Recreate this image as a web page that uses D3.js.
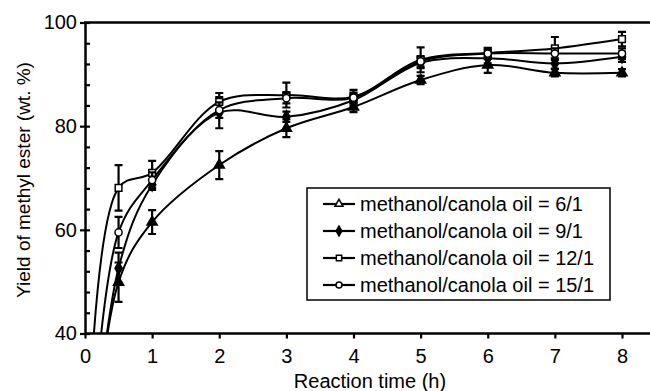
<!DOCTYPE html>
<html>
<head>
<meta charset="utf-8">
<script src="https://cdn.jsdelivr.net/npm/d3@7"></script>
<style>
  html, body { margin: 0; padding: 0; background: #fff; }
  svg { display: block; }
  text { font-family: "Liberation Sans", Arial, sans-serif; fill: #000; }
</style>
</head>
<body>
<svg id="chart" width="650" height="391"></svg>
<script>
// ---- data ----
const times = [0, 0.5, 1, 2, 3, 4, 5, 6, 7, 8];
const yield6 = [0, 49.9, 61.5, 72.5, 79.6, 83.7, 88.9, 91.8, 90.3, 90.3];
const err6   = [0, 3.8, 2.3, 2.7, 1.7, 1.0, 0.8, 1.5, 0.7, 0.7];
const yield9 = [0, 52.6, 68.7, 82.6, 81.8, 85.0, 92.2, 93.1, 92.1, 93.4];
const err9   = [0, 3.0, 1.0, 3.0, 1.0, 1.0, 1.0, 1.0, 1.0, 1.0];
const yield12 = [0, 68.1, 71.0, 84.7, 86.0, 85.7, 92.8, 94.1, 95.0, 96.8];
const err12   = [0, 4.4, 2.3, 1.7, 2.4, 1.3, 2.4, 1.0, 2.2, 1.4];
const yield15 = [0, 59.5, 69.6, 83.1, 85.4, 85.5, 92.5, 94.0, 94.0, 94.0];
const err15   = [0, 3.0, 1.5, 1.5, 1.0, 1.0, 1.0, 1.0, 1.0, 1.0];
const seriesNames = ["methanol/canola oil = 6/1", "methanol/canola oil = 9/1",
                     "methanol/canola oil = 12/1", "methanol/canola oil = 15/1"];
const markerTypes = ["triangle", "diamond", "square", "circle"];
const xTicks = [0, 1, 2, 3, 4, 5, 6, 7, 8];
const yMajor = [40, 60, 80, 100];
const yMinor = [44, 48, 52, 56, 64, 68, 72, 76, 84, 88, 92, 96];
const xTitle = "Reaction time (h)";
const yTitle = "Yield of methyl ester (wt. %)";

const seriesVals = [yield6, yield9, yield12, yield15];
const seriesErr = [err6, err9, err12, err15];

// ---- layout ----
const svg = d3.select("#chart");
const L = 85, R = 650, T = 22.5, B = 333.5;
const x = d3.scaleLinear().domain([0, 8]).range([L, 622]);
const y = d3.scaleLinear().domain([40, 100]).range([B, T]);

const defs = svg.append("defs");
defs.append("clipPath").attr("id", "plotclip")
  .append("rect").attr("x", L).attr("y", T - 2).attr("width", R - L).attr("height", B - T + 2);

const plot = svg.append("g").attr("clip-path", "url(#plotclip)");

const line = d3.line().curve(d3.curveCatmullRom.alpha(0.5))
  .x(d => x(d.t)).y(d => y(d.v));

function markerPath(type, s) {
  const sym = {triangle: d3.symbolTriangle, diamond: d3.symbolDiamond,
               square: d3.symbolSquare, circle: d3.symbolCircle}[type];
  return d3.symbol().type(sym).size(s)();
}
function markerFill(type) { return (type === "square" || type === "circle") ? "#fff" : "#000"; }

seriesVals.forEach((vals, si) => {
  const pts = times.map((t, i) => ({t, v: vals[i], e: seriesErr[si][i]}));
  plot.append("path").datum(pts)
    .attr("d", line).attr("fill", "none").attr("stroke", "#000").attr("stroke-width", 2);
});

// error bars and markers
seriesVals.forEach((vals, si) => {
  const pts = times.map((t, i) => ({t, v: vals[i], e: seriesErr[si][i]})).filter(d => d.t > 0);
  const g = plot.append("g");
  const eb = g.selectAll("g.eb").data(pts).enter().append("g");
  eb.append("line").attr("x1", d => x(d.t)).attr("x2", d => x(d.t))
    .attr("y1", d => y(d.v - d.e)).attr("y2", d => y(d.v + d.e))
    .attr("stroke", "#000").attr("stroke-width", 2.2);
  [-1, 1].forEach(sg => {
    eb.append("line").attr("x1", d => x(d.t) - 4).attr("x2", d => x(d.t) + 4)
      .attr("y1", d => y(d.v + sg * d.e)).attr("y2", d => y(d.v + sg * d.e))
      .attr("stroke", "#000").attr("stroke-width", 2.2);
  });
  const type = markerTypes[si];
  g.selectAll("path.m").data(pts).enter().append("path")
    .attr("d", markerPath(type, type === "circle" ? 40 : 45))
    .attr("transform", d => `translate(${x(d.t)},${y(d.v)})`)
    .attr("fill", markerFill(type)).attr("stroke", "#000").attr("stroke-width", 1.5);
});

// ---- axes ----
const yAxis = svg.append("g").attr("transform", `translate(${L},0)`)
  .call(d3.axisLeft(y).tickValues(yMajor).tickSize(5).tickPadding(3).tickSizeOuter(0));
yAxis.selectAll(".tick line").attr("x1", 5).attr("stroke-width", 2.2);
yAxis.select(".domain").attr("stroke-width", 2.5);
yAxis.selectAll("text").attr("font-size", 20).attr("font-family", "Liberation Sans, Arial, sans-serif");

const yMinorAxis = svg.append("g").attr("transform", `translate(${L},0)`)
  .call(d3.axisRight(y).tickValues(yMinor).tickSize(5).tickFormat("").tickSizeOuter(0));
yMinorAxis.select(".domain").remove();
yMinorAxis.selectAll(".tick line").attr("stroke-width", 2.2);

const xAxis = svg.append("g").attr("transform", `translate(0,${B})`)
  .call(d3.axisBottom(x).tickValues(xTicks).tickSize(5).tickPadding(10).tickSizeOuter(0));
xAxis.select(".domain").attr("d", `M${L},0H${R}`).attr("stroke-width", 2.5);
xAxis.selectAll(".tick line").attr("stroke-width", 2.2);
xAxis.selectAll("text").attr("font-size", 20).attr("font-family", "Liberation Sans, Arial, sans-serif");

// top frame line
svg.append("line").attr("x1", L - 1).attr("x2", R).attr("y1", T).attr("y2", T)
  .attr("stroke", "#000").attr("stroke-width", 2.5);

// titles
svg.append("text").attr("x", 370).attr("y", 388).attr("text-anchor", "middle")
  .attr("font-size", 20).text(xTitle);
svg.append("text").attr("transform", "translate(30,180) rotate(-90)")
  .attr("text-anchor", "middle").attr("font-size", 19).text(yTitle);

// ---- legend ----
const lg = svg.append("g");
lg.append("rect").attr("x", 307).attr("y", 188).attr("width", 303).attr("height", 112)
  .attr("fill", "#fff").attr("stroke", "#000").attr("stroke-width", 1.5);
const rowY = d3.scalePoint().domain(seriesNames).range([204, 285]);
seriesNames.forEach((name, i) => {
  const cy = rowY(name);
  lg.append("line").attr("x1", 323).attr("x2", 355).attr("y1", cy).attr("y2", cy)
    .attr("stroke", "#000").attr("stroke-width", 2.2);
  const type = markerTypes[i];
  lg.append("path").attr("d", markerPath(type, 28))
    .attr("transform", `translate(339,${cy})`)
    .attr("fill", type === "diamond" ? "#000" : "#fff").attr("stroke", "#000").attr("stroke-width", 1.5);
  lg.append("text").attr("x", 360).attr("y", cy + 7).attr("font-size", 20).text(name);
});
</script>
</body>
</html>
